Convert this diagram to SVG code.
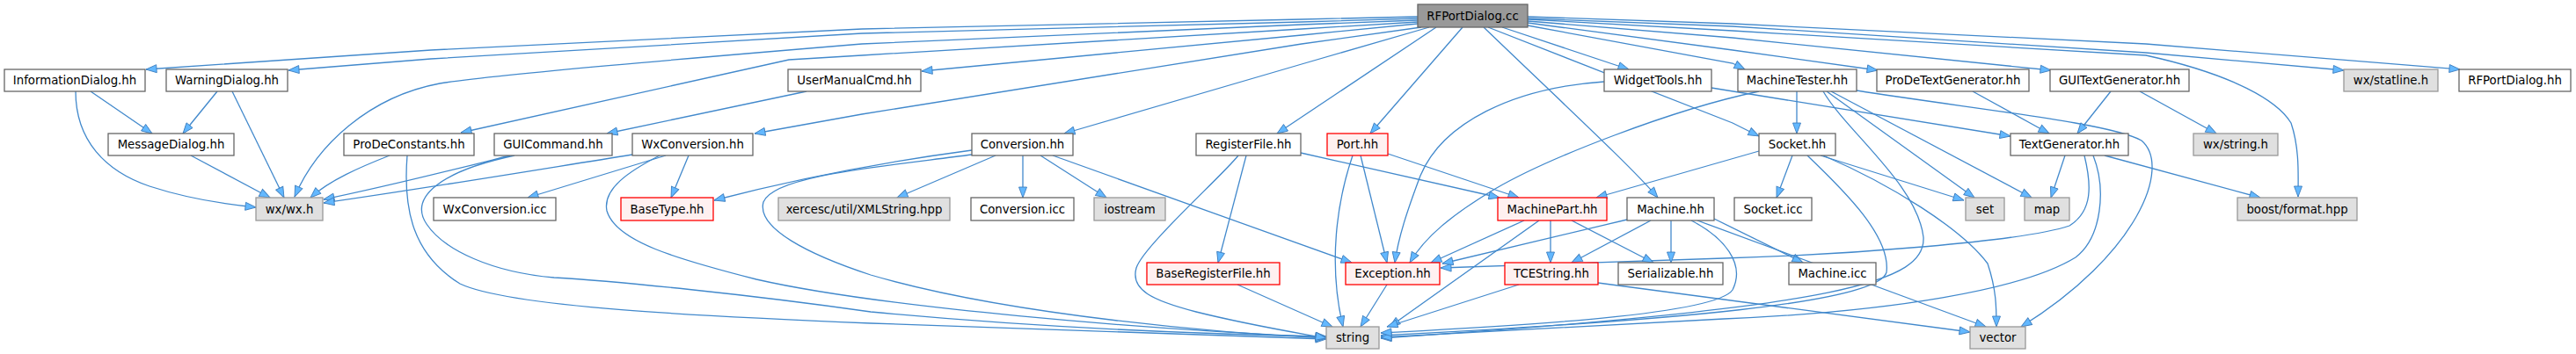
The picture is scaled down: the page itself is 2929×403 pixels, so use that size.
<svg xmlns="http://www.w3.org/2000/svg" width="2929" height="403" viewBox="0 0 2929 403">
<style>
rect{stroke-width:1.3}
.n rect{fill:#ffffff;stroke:#666666}
.g rect{fill:#e0e0e0;stroke:#999999}
.r rect{fill:#fff0f0;stroke:#ff0000}
.root rect{fill:#999999;stroke:#666666}
text{font-family:"DejaVu Sans","Liberation Sans",sans-serif;font-size:13.3px;fill:#000;text-anchor:middle}
#edges path{fill:none;stroke:#4289cc;stroke-width:1.3;marker-end:url(#a)}
</style>
<defs>
<marker id="a" markerWidth="14" markerHeight="11" refX="12" refY="4.5" orient="auto" markerUnits="userSpaceOnUse" overflow="visible">
<path d="M0,0 L12,4.5 L0,9 z" fill="#63b8ff" stroke="#3f7fbf" stroke-width="0.9"/>
</marker>
</defs>
<rect width="2929" height="403" fill="#ffffff"/>
<g id="edges">
<path d="M1612,19 L1480,22 L980,33 L490,57 L166,79"/>
<path d="M1612,21 L1480,25 L980,38 L490,67 L328,80"/>
<path d="M1612,23 L1480,28 L980,50 C800,65 560,85 500,95 C420,110 360,165 335,224"/>
<path d="M1612,25 L1480,33 L980,63 L897,68 L524,151"/>
<path d="M1612,27 L1480,40 L1048,81"/>
<path d="M1616,31 L1480,50 L980,130 L858,152"/>
<path d="M1625,31 L1480,73 L1210,152"/>
<path d="M1633,31 L1452,152"/>
<path d="M1663,31 L1558,152"/>
<path d="M1687,31 C1790,130 1855,190 1885,225"/>
<path d="M1692,31 L1970,140 L2000,155"/>
<path d="M1708,31 L1852,79"/>
<path d="M1737,29 L1970,72 L1984,79"/>
<path d="M1737,26 L1970,57 L2135,80"/>
<path d="M1737,24 L1970,43 L2332,80"/>
<path d="M1737,21 L1970,30 L2440,60 L2665,80"/>
<path d="M1737,19 L1970,27 L2440,50 L2797,79"/>
<path d="M1737,22 L1970,35 L2440,63 C2540,85 2590,115 2605,140 C2615,170 2613,200 2613,224"/>
<path d="M103,104 L173,152"/>
<path d="M86,104 C86,160 120,195 170,212 C210,225 250,232 291,236"/>
<path d="M247,104 L208,152"/>
<path d="M264,104 L323,225"/>
<path d="M217,177 L307,225"/>
<path d="M917,104 L690,152"/>
<path d="M443,177 C410,190 375,205 353,225"/>
<path d="M463,177 C458,240 470,290 523,323 C580,350 800,360 990,368 L1508,386"/>
<path d="M580,177 C520,192 450,210 368,227"/>
<path d="M585,177 C500,195 465,225 485,255 C505,285 560,310 630,316 C700,320 850,335 990,355 C1200,375 1400,381 1508,383"/>
<path d="M719,176 C600,195 480,215 368,231"/>
<path d="M757,177 L600,225"/>
<path d="M783,177 L763,225"/>
<path d="M750,177 C715,195 685,215 690,240 C700,275 770,295 860,318 C1000,350 1300,375 1508,384"/>
<path d="M1105,171 C1000,185 900,205 812,228"/>
<path d="M1132,177 L1020,225"/>
<path d="M1163,177 L1163,225"/>
<path d="M1183,177 L1258,225"/>
<path d="M1197,177 L1537,299"/>
<path d="M1105,176 C1000,190 880,200 868,230 C860,260 920,290 990,313 C1150,360 1400,380 1508,385"/>
<path d="M1417,177 L1385,299"/>
<path d="M1408,177 C1390,200 1300,280 1292,305 C1285,330 1310,342 1360,355 C1420,370 1470,378 1508,385"/>
<path d="M1479,174 L1705,225"/>
<path d="M1407,324 L1515,372"/>
<path d="M1578,175 L1727,225"/>
<path d="M1547,177 L1577,299"/>
<path d="M1538,177 C1520,230 1510,300 1527,372"/>
<path d="M1824,93 C1720,100 1640,140 1615,200 C1600,240 1590,270 1586,299"/>
<path d="M1946,100 L2286,155"/>
<path d="M2043,104 L2043,152"/>
<path d="M2077,104 L2245,225"/>
<path d="M2082,104 L2310,225"/>
<path d="M2073,104 C2100,150 2180,210 2187,270 C2190,320 2100,350 1570,385"/>
<path d="M2111,103 C2250,125 2400,140 2435,160 C2470,190 2430,290 2298,372"/>
<path d="M2000,104 C1900,125 1760,180 1700,215 C1650,245 1620,270 1603,299"/>
<path d="M2038,177 L2020,225"/>
<path d="M2000,172 L1815,225"/>
<path d="M2055,177 C2100,220 2150,270 2145,310 C2135,345 1900,365 1570,382"/>
<path d="M2070,177 L2233,228"/>
<path d="M2073,177 C2150,210 2230,260 2260,300 C2270,330 2270,350 2270,372"/>
<path d="M2243,104 L2330,152"/>
<path d="M2400,104 L2362,152"/>
<path d="M2433,104 L2520,152"/>
<path d="M2348,177 L2332,225"/>
<path d="M2393,177 L2570,225"/>
<path d="M2370,177 C2378,210 2380,240 2353,257 C2300,275 2100,290 1960,294 L1638,305"/>
<path d="M2380,177 C2395,215 2390,270 2360,293 C2300,330 2150,355 1960,363 L1570,384"/>
<path d="M1850,250 L1640,300"/>
<path d="M1877,251 L1787,299"/>
<path d="M1900,251 L1900,299"/>
<path d="M1949,249 L2050,299"/>
<path d="M1930,251 L2258,372"/>
<path d="M1923,251 C1960,270 1985,300 1970,330 C1950,360 1700,372 1570,379"/>
<path d="M1733,251 L1627,299"/>
<path d="M1750,251 L1580,372"/>
<path d="M1763,251 L1763,299"/>
<path d="M1787,251 L1880,299"/>
<path d="M1577,324 L1547,372"/>
<path d="M1727,324 L1577,372"/>
<path d="M1817,322 L2240,378"/>
</g>
<g id="n_root" class="root"><rect x="1612" y="5" width="125" height="26"/><text x="1674.5" y="22.5">RFPortDialog.cc</text></g>
<g id="n_infodlg" class="n"><rect x="5" y="79" width="160" height="25"/><text x="85" y="96">InformationDialog.hh</text></g>
<g id="n_warndlg" class="n"><rect x="189" y="79" width="138" height="25"/><text x="258" y="96">WarningDialog.hh</text></g>
<g id="n_usermanual" class="n"><rect x="896" y="79" width="151" height="25"/><text x="971.5" y="96">UserManualCmd.hh</text></g>
<g id="n_widgettools" class="n"><rect x="1824" y="79" width="122" height="25"/><text x="1885" y="96">WidgetTools.hh</text></g>
<g id="n_machinetester" class="n"><rect x="1976" y="79" width="135" height="25"/><text x="2043.5" y="96">MachineTester.hh</text></g>
<g id="n_prodetextgen" class="n"><rect x="2134" y="79" width="173" height="25"/><text x="2220.5" y="96">ProDeTextGenerator.hh</text></g>
<g id="n_guitextgen" class="n"><rect x="2331" y="79" width="158" height="25"/><text x="2410" y="96">GUITextGenerator.hh</text></g>
<g id="n_statline" class="g"><rect x="2665" y="79" width="107" height="25"/><text x="2718.5" y="96">wx/statline.h</text></g>
<g id="n_rfportdlghh" class="n"><rect x="2796" y="79" width="127" height="25"/><text x="2859.5" y="96">RFPortDialog.hh</text></g>
<g id="n_msgdlg" class="n"><rect x="123" y="152" width="143" height="25"/><text x="194.5" y="169">MessageDialog.hh</text></g>
<g id="n_prodeconst" class="n"><rect x="391" y="152" width="148" height="25"/><text x="465" y="169">ProDeConstants.hh</text></g>
<g id="n_guicommand" class="n"><rect x="562" y="152" width="134" height="25"/><text x="629" y="169">GUICommand.hh</text></g>
<g id="n_wxconv" class="n"><rect x="719" y="152" width="137" height="25"/><text x="787.5" y="169">WxConversion.hh</text></g>
<g id="n_conv" class="n"><rect x="1105" y="152" width="115" height="25"/><text x="1162.5" y="169">Conversion.hh</text></g>
<g id="n_regfile" class="n"><rect x="1360" y="152" width="119" height="25"/><text x="1419.5" y="169">RegisterFile.hh</text></g>
<g id="n_port" class="r"><rect x="1509" y="152" width="69" height="25"/><text x="1543.5" y="169">Port.hh</text></g>
<g id="n_socket" class="n"><rect x="2000" y="152" width="87" height="25"/><text x="2043.5" y="169">Socket.hh</text></g>
<g id="n_textgen" class="n"><rect x="2286" y="152" width="134" height="25"/><text x="2353" y="169">TextGenerator.hh</text></g>
<g id="n_wxstring" class="g"><rect x="2494" y="152" width="96" height="25"/><text x="2542" y="169">wx/string.h</text></g>
<g id="n_wxwx" class="g"><rect x="291" y="225" width="76" height="26"/><text x="329" y="242.5">wx/wx.h</text></g>
<g id="n_wxconvicc" class="n"><rect x="493" y="225" width="139" height="26"/><text x="562.5" y="242.5">WxConversion.icc</text></g>
<g id="n_basetype" class="r"><rect x="706" y="225" width="105" height="26"/><text x="758.5" y="242.5">BaseType.hh</text></g>
<g id="n_xerces" class="g"><rect x="885" y="225" width="195" height="26"/><text x="982.5" y="242.5">xercesc/util/XMLString.hpp</text></g>
<g id="n_convicc" class="n"><rect x="1104" y="225" width="117" height="26"/><text x="1162.5" y="242.5">Conversion.icc</text></g>
<g id="n_iostream" class="g"><rect x="1244" y="225" width="81" height="26"/><text x="1284.5" y="242.5">iostream</text></g>
<g id="n_machinepart" class="r"><rect x="1703" y="225" width="124" height="26"/><text x="1765" y="242.5">MachinePart.hh</text></g>
<g id="n_machine" class="n"><rect x="1850" y="225" width="99" height="26"/><text x="1899.5" y="242.5">Machine.hh</text></g>
<g id="n_socketicc" class="n"><rect x="1972" y="225" width="88" height="26"/><text x="2016" y="242.5">Socket.icc</text></g>
<g id="n_set" class="g"><rect x="2235" y="225" width="44" height="26"/><text x="2257" y="242.5">set</text></g>
<g id="n_map" class="g"><rect x="2302" y="225" width="51" height="26"/><text x="2327.5" y="242.5">map</text></g>
<g id="n_boostformat" class="g"><rect x="2544" y="225" width="136" height="26"/><text x="2612" y="242.5">boost/format.hpp</text></g>
<g id="n_baseregfile" class="r"><rect x="1304" y="299" width="151" height="25"/><text x="1379.5" y="316">BaseRegisterFile.hh</text></g>
<g id="n_exception" class="r"><rect x="1530" y="299" width="107" height="25"/><text x="1583.5" y="316">Exception.hh</text></g>
<g id="n_tcestring" class="r"><rect x="1711" y="299" width="106" height="25"/><text x="1764" y="316">TCEString.hh</text></g>
<g id="n_serializable" class="n"><rect x="1840" y="299" width="119" height="25"/><text x="1899.5" y="316">Serializable.hh</text></g>
<g id="n_machineicc" class="n"><rect x="2034" y="299" width="99" height="25"/><text x="2083.5" y="316">Machine.icc</text></g>
<g id="n_string" class="g"><rect x="1508" y="372" width="60" height="25"/><text x="1538" y="389">string</text></g>
<g id="n_vector" class="g"><rect x="2240" y="372" width="63" height="25"/><text x="2271.5" y="389">vector</text></g>
</svg>
